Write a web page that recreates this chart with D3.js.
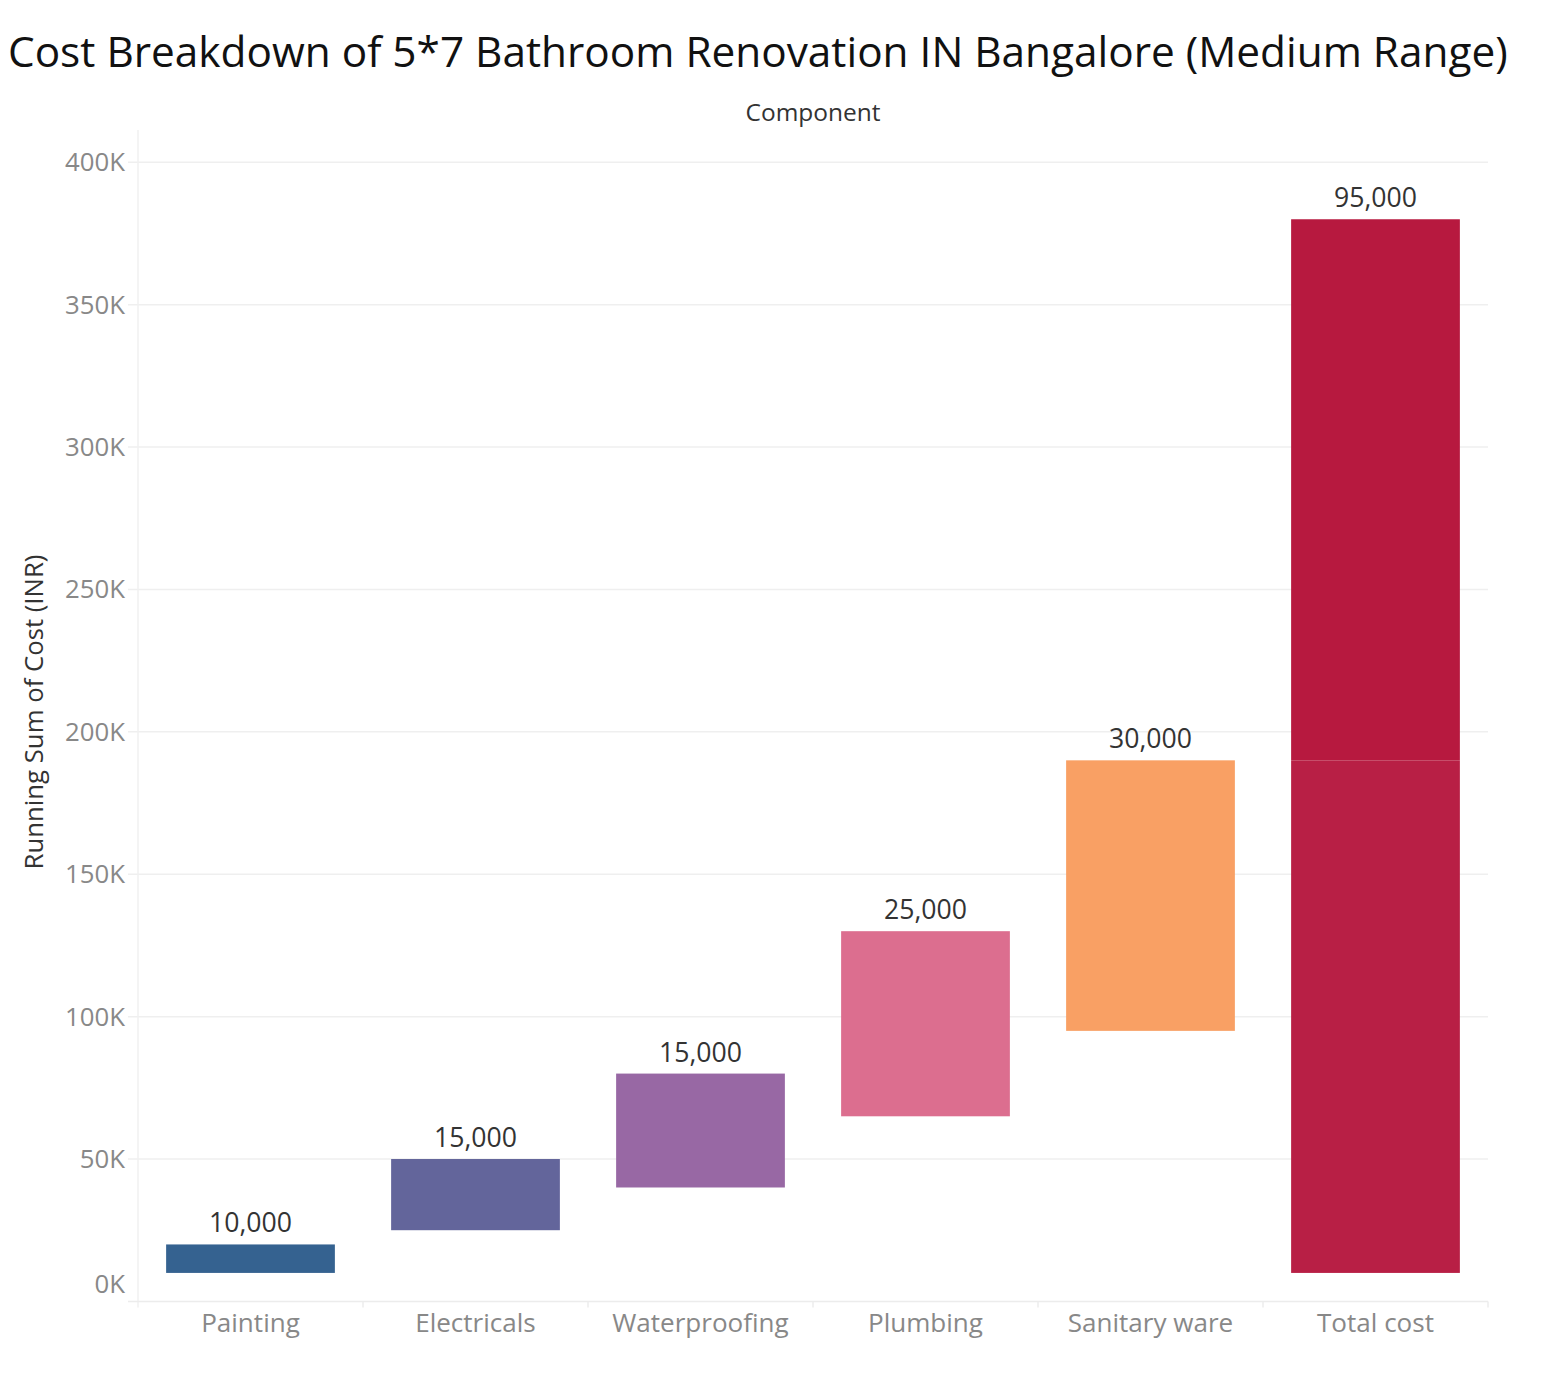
<!DOCTYPE html>
<html><head><meta charset="utf-8">
<script src="https://cdn.jsdelivr.net/npm/d3@7"></script>
<style>body{margin:0;background:#fff}</style>
</head><body>
<svg id="c" width="1566" height="1396"></svg>
<script>
// ---- data ----
const categories = ["Painting", "Electricals", "Waterproofing", "Plumbing", "Sanitary ware", "Total cost"];
const costLabels = [10000, 15000, 15000, 25000, 30000, 95000];
const barLow  = [10000, 25000, 40000, 65000, 95000, 10000];
const barHigh = [20000, 50000, 80000, 130000, 190000, 380000];
const totalSegLow  = [10000, 190000];
const totalSegHigh = [190000, 380000];
const yTickValues = [0, 50000, 100000, 150000, 200000, 250000, 300000, 350000, 400000];

const barColors = ["#356290", "#63659b", "#9868a4", "#dc6e8f", "#f9a064", "#b81e44"];
const totalSegColors = ["#b81f45", "#b7193f"];

(function () {
const svg = d3.select("#c");
const FONT = "'Open Sans', 'Noto Sans', sans-serif";

function fitSize(text, width, weight) {
  const t = svg.append("text").attr("font-family", FONT).attr("font-size", 100)
    .attr("font-weight", weight || 400).text(text);
  const w = t.node().getComputedTextLength();
  t.remove();
  return 100 * width / w;
}

const pLeft = 138, pRight = 1488, pTop = 162.3, pBottom = 1301.4;
const x = d3.scaleBand().domain(categories).range([pLeft, pRight]).paddingInner(0.25).paddingOuter(0.125);
const y = d3.scaleLinear().domain([0, 400000]).range([pBottom, pTop]);

// title
const titleText = "Cost Breakdown of 5*7 Bathroom Renovation IN Bangalore (Medium Range)";
svg.append("text").attr("x", 8).attr("y", 67)
  .attr("font-family", FONT).attr("font-size", fitSize(titleText, 1500))
  .attr("fill", "#111").text(titleText);

// header
svg.append("text").attr("x", (pLeft + pRight) / 2).attr("y", 121).attr("text-anchor", "middle")
  .attr("font-family", FONT).attr("font-size", fitSize("Component", 135)).attr("fill", "#333")
  .text("Component");

// gridlines
svg.append("g").selectAll("line").data(yTickValues.filter(v => v > 0)).join("line")
  .attr("x1", 128).attr("x2", pRight).attr("y1", d => y(d)).attr("y2", d => y(d))
  .attr("stroke", "#efefef").attr("stroke-width", 1.5);

// axis lines
svg.append("line").attr("x1", pLeft).attr("x2", pLeft).attr("y1", 130).attr("y2", pBottom + 6)
  .attr("stroke", "#f0f0f0").attr("stroke-width", 1.5);
svg.append("line").attr("x1", 128).attr("x2", pRight).attr("y1", pBottom).attr("y2", pBottom)
  .attr("stroke", "#ececec").attr("stroke-width", 1.5);
const bounds = categories.map(c => x(c) - x.step() * x.paddingInner() / 2).concat([pRight]);
svg.append("g").selectAll("line").data(bounds.slice(1)).join("line")
  .attr("x1", d => d).attr("x2", d => d).attr("y1", pBottom).attr("y2", pBottom + 6)
  .attr("stroke", "#ececec").attr("stroke-width", 1.5);

// y tick labels
const tickSize = fitSize("400K", 60);
const fmtK = v => (v / 1000) + "K";
svg.append("g").selectAll("text").data(yTickValues).join("text")
  .attr("x", 125).attr("y", d => d === 0 ? y(d) - 17 : y(d)).attr("dy", "0.35em")
  .attr("text-anchor", "end").attr("font-family", FONT).attr("font-size", tickSize)
  .attr("fill", "#888").text(fmtK);

// y axis title
svg.append("text").attr("transform", "translate(43,712) rotate(-90)").attr("text-anchor", "middle")
  .attr("font-family", FONT).attr("font-size", fitSize("Running Sum of Cost (INR)", 315)).attr("fill", "#333")
  .text("Running Sum of Cost (INR)");

// x labels
const xlabSize = fitSize("Total cost", 117);
svg.append("g").selectAll("text").data(categories).join("text")
  .attr("x", d => x(d) + x.bandwidth() / 2).attr("y", 1332).attr("text-anchor", "middle")
  .attr("font-family", FONT).attr("font-size", xlabSize).attr("fill", "#888").text(d => d);

// bars (first five)
const idx = d3.range(categories.length - 1);
svg.append("g").selectAll("rect").data(idx).join("rect")
  .attr("x", i => x(categories[i])).attr("width", x.bandwidth())
  .attr("y", i => y(barHigh[i])).attr("height", i => y(barLow[i]) - y(barHigh[i]))
  .attr("fill", i => barColors[i]);

// total bar in two segments
const tot = categories[categories.length - 1];
svg.append("g").selectAll("rect").data(totalSegLow.map((l, j) => j)).join("rect")
  .attr("x", x(tot)).attr("width", x.bandwidth())
  .attr("y", j => y(totalSegHigh[j])).attr("height", j => y(totalSegLow[j]) - y(totalSegHigh[j]))
  .attr("fill", j => totalSegColors[j]);

// value labels
const valSize = fitSize("10,000", 83);
const fmt = d3.format(",");
svg.append("g").selectAll("text").data(d3.range(categories.length)).join("text")
  .attr("x", i => x(categories[i]) + x.bandwidth() / 2).attr("y", i => y(barHigh[i]) - 12)
  .attr("text-anchor", "middle").attr("font-family", FONT).attr("font-size", valSize)
  .attr("fill", "#333").text(i => fmt(costLabels[i]));
})();
</script>
</body></html>
